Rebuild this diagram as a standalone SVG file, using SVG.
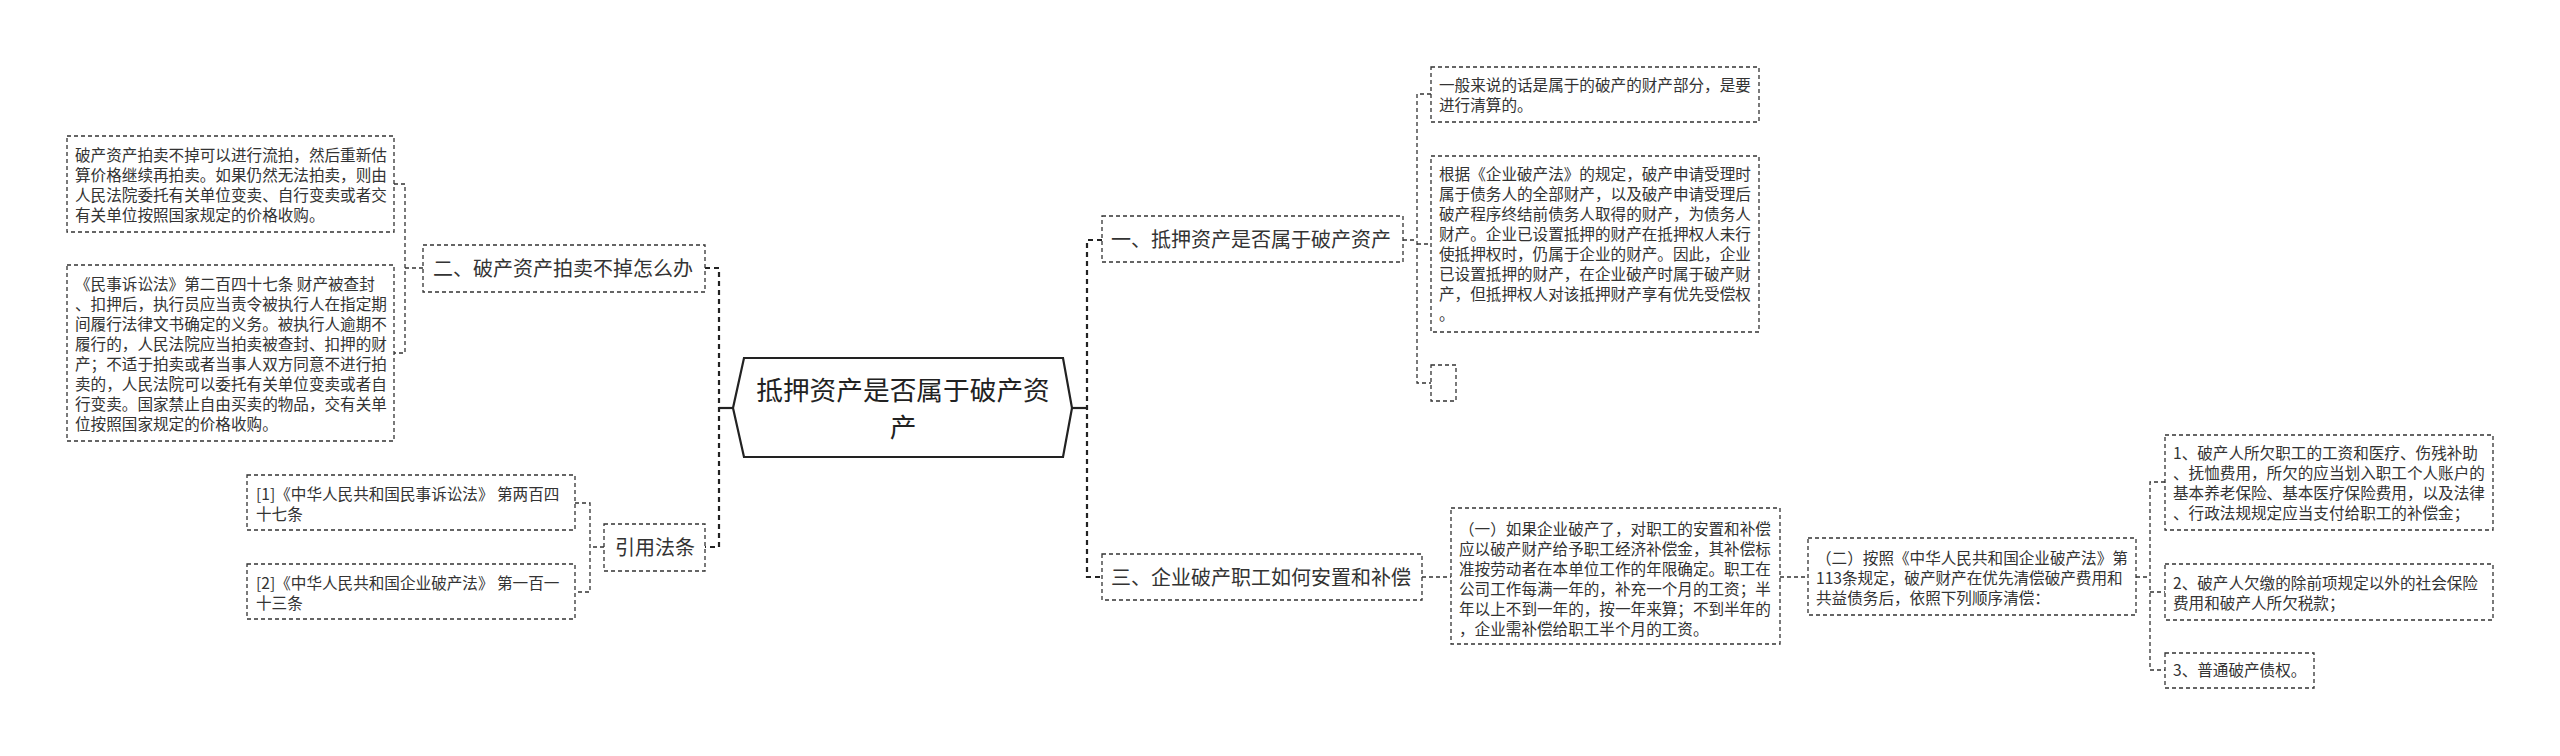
<svg xmlns="http://www.w3.org/2000/svg" width="2560" height="756" viewBox="0 0 2560 756">
<style>
.bg{fill:#ffffff}
.box{fill:#ffffff;stroke:#333333;stroke-width:1.3;stroke-dasharray:4 3}
.hex{fill:#ffffff;stroke:#222222;stroke-width:2.2}
.t{font-family:"Noto Sans CJK SC","Noto Sans",sans-serif;fill:#333333;font-size:15.6px}
.t1{font-family:"Noto Sans CJK SC","Noto Sans",sans-serif;fill:#333333;font-size:20px}
.t0{font-family:"Noto Sans CJK SC","Noto Sans",sans-serif;fill:#222222;font-size:26.7px}
.c{fill:none;stroke:#333333;stroke-width:1.3;stroke-dasharray:4 3}
.c2{fill:none;stroke:#222222;stroke-width:2.2;stroke-dasharray:5 4}
.s{fill:none;stroke:#222222;stroke-width:2.2}
</style>
<rect class="bg" x="0" y="0" width="2560" height="756"/>
<g id="connectors">
  <path class="s" d="M733 408H719"/>
  <path class="c2" d="M705 268H719V547H705"/>
  <path class="s" d="M1072 408H1087"/>
  <path class="c2" d="M1102 240H1087V577H1102"/>
  <path class="c" d="M423 268H405M394 184H405V353H394"/>
  <path class="c" d="M604 547H590M575 503H590V592H575"/>
  <path class="c" d="M1403 240H1417M1431 94H1417V383H1431M1417 244H1431"/>
  <path class="c" d="M1422 577H1451"/>
  <path class="c" d="M1780 577H1808"/>
  <path class="c" d="M2136 577H2150M2165 482H2150V670H2165M2150 592H2165"/>
</g>
<g id="root">
  <polygon class="hex" points="733,408 744,358 1063,358 1072,408 1063,457 744,457"/>
  <text class="t0" x="903" y="400" text-anchor="middle">抵押资产是否属于破产资</text>
  <text class="t0" x="903" y="437" text-anchor="middle">产</text>
</g>
<g id="n-auction">
  <rect class="box" x="423" y="245" width="282" height="47"/>
  <text class="t1" x="433" y="276">二、破产资产拍卖不掉怎么办</text>
</g>
<g id="n-auction-a">
  <rect class="box" x="67" y="136" width="327" height="96"/>
  <text class="t" x="75" y="161">破产资产拍卖不掉可以进行流拍，然后重新估</text>
  <text class="t" x="75" y="181">算价格继续再拍卖。如果仍然无法拍卖，则由</text>
  <text class="t" x="75" y="201">人民法院委托有关单位变卖、自行变卖或者交</text>
  <text class="t" x="75" y="221">有关单位按照国家规定的价格收购。</text>
</g>
<g id="n-auction-b">
  <rect class="box" x="67" y="265" width="327" height="176"/>
  <text class="t" x="75" y="290">《民事诉讼法》第二百四十七条 财产被查封</text>
  <text class="t" x="75" y="310">、扣押后，执行员应当责令被执行人在指定期</text>
  <text class="t" x="75" y="330">间履行法律文书确定的义务。被执行人逾期不</text>
  <text class="t" x="75" y="350">履行的，人民法院应当拍卖被查封、扣押的财</text>
  <text class="t" x="75" y="370">产；不适于拍卖或者当事人双方同意不进行拍</text>
  <text class="t" x="75" y="390">卖的，人民法院可以委托有关单位变卖或者自</text>
  <text class="t" x="75" y="410">行变卖。国家禁止自由买卖的物品，交有关单</text>
  <text class="t" x="75" y="430">位按照国家规定的价格收购。</text>
</g>
<g id="n-laws">
  <rect class="box" x="604" y="524" width="101" height="47"/>
  <text class="t1" x="615" y="555">引用法条</text>
</g>
<g id="n-law1">
  <rect class="box" x="247" y="475" width="328" height="55"/>
  <text class="t" x="256" y="500">[1]《中华人民共和国民事诉讼法》 第两百四</text>
  <text class="t" x="256" y="520">十七条</text>
</g>
<g id="n-law2">
  <rect class="box" x="247" y="564" width="328" height="55"/>
  <text class="t" x="256" y="589">[2]《中华人民共和国企业破产法》 第一百一</text>
  <text class="t" x="256" y="609">十三条</text>
</g>
<g id="n-one">
  <rect class="box" x="1102" y="216" width="301" height="46"/>
  <text class="t1" x="1111" y="247">一、抵押资产是否属于破产资产</text>
</g>
<g id="n-one-a">
  <rect class="box" x="1431" y="67" width="328" height="55"/>
  <text class="t" x="1439" y="91">一般来说的话是属于的破产的财产部分，是要</text>
  <text class="t" x="1439" y="111">进行清算的。</text>
</g>
<g id="n-one-b">
  <rect class="box" x="1431" y="156" width="328" height="176"/>
  <text class="t" x="1439" y="180">根据《企业破产法》的规定，破产申请受理时</text>
  <text class="t" x="1439" y="200">属于债务人的全部财产，以及破产申请受理后</text>
  <text class="t" x="1439" y="220">破产程序终结前债务人取得的财产，为债务人</text>
  <text class="t" x="1439" y="240">财产。企业已设置抵押的财产在抵押权人未行</text>
  <text class="t" x="1439" y="260">使抵押权时，仍属于企业的财产。因此，企业</text>
  <text class="t" x="1439" y="280">已设置抵押的财产，在企业破产时属于破产财</text>
  <text class="t" x="1439" y="300">产，但抵押权人对该抵押财产享有优先受偿权</text>
  <text class="t" x="1439" y="320">。</text>
</g>
<g id="n-one-c">
  <rect class="box" x="1431" y="365" width="25" height="36"/>
</g>
<g id="n-three">
  <rect class="box" x="1102" y="554" width="320" height="46"/>
  <text class="t1" x="1111" y="585">三、企业破产职工如何安置和补偿</text>
</g>
<g id="n-three-a">
  <rect class="box" x="1451" y="508" width="329" height="136"/>
  <text class="t" x="1459" y="535">（一）如果企业破产了，对职工的安置和补偿</text>
  <text class="t" x="1459" y="555">应以破产财产给予职工经济补偿金，其补偿标</text>
  <text class="t" x="1459" y="575">准按劳动者在本单位工作的年限确定。职工在</text>
  <text class="t" x="1459" y="595">公司工作每满一年的，补充一个月的工资；半</text>
  <text class="t" x="1459" y="615">年以上不到一年的，按一年来算；不到半年的</text>
  <text class="t" x="1459" y="635">，企业需补偿给职工半个月的工资。</text>
</g>
<g id="n-three-b">
  <rect class="box" x="1808" y="538" width="328" height="77"/>
  <text class="t" x="1816" y="564">（二）按照《中华人民共和国企业破产法》第</text>
  <text class="t" x="1816" y="584">113条规定，破产财产在优先清偿破产费用和</text>
  <text class="t" x="1816" y="604">共益债务后，依照下列顺序清偿：</text>
</g>
<g id="n-order1">
  <rect class="box" x="2165" y="435" width="328" height="95"/>
  <text class="t" x="2173" y="459">1、破产人所欠职工的工资和医疗、伤残补助</text>
  <text class="t" x="2173" y="479">、抚恤费用，所欠的应当划入职工个人账户的</text>
  <text class="t" x="2173" y="499">基本养老保险、基本医疗保险费用，以及法律</text>
  <text class="t" x="2173" y="519">、行政法规规定应当支付给职工的补偿金；</text>
</g>
<g id="n-order2">
  <rect class="box" x="2165" y="564" width="328" height="56"/>
  <text class="t" x="2173" y="589">2、破产人欠缴的除前项规定以外的社会保险</text>
  <text class="t" x="2173" y="609">费用和破产人所欠税款；</text>
</g>
<g id="n-order3">
  <rect class="box" x="2165" y="653" width="149" height="35"/>
  <text class="t" x="2173" y="676">3、普通破产债权。</text>
</g>
</svg>
